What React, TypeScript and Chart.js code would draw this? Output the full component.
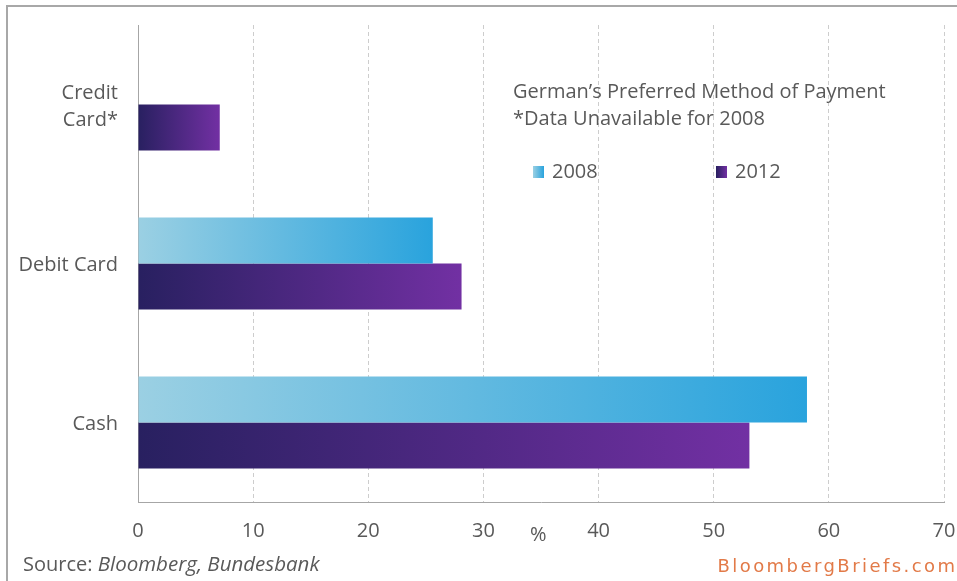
import React, { useEffect, useRef } from "react";
import { Chart, registerables } from "chart.js";

Chart.register(...registerables);

// Share of payments by method, in percent
const categories: (string | string[])[] = [["Credit", "Card*"], "Debit Card", "Cash"];
const values2008: (number | null)[] = [null, 25.6, 58.1];
const values2012: (number | null)[] = [7.1, 28.1, 53.1];
const seriesNames = ["2008", "2012"];
const xMin = 0;
const xMax = 70;
const xStep = 10;

const titleLines = ["German\u2019s Preferred Method of Payment", "*Data Unavailable for 2008"];
const unitLabel = "%";
const sourcePrefix = "Source: ";
const sourceNames = "Bloomberg, Bundesbank";
const brand = "BloombergBriefs.com";

const TEXT = "#595959";
const FONT = '"Open Sans", "Noto Sans", sans-serif';
const palette2008 = ["#9bd0e3", "#29a3dd"];
const palette2012 = ["#282060", "#7230a3"];

// Horizontal gradient that runs from the zero line to the end of each bar
function barGradient(stops: string[]) {
  return (ctx: any) => {
    const chart = ctx.chart;
    if (!chart.chartArea || ctx.type !== "data" || ctx.raw == null) return stops[1];
    const xs = chart.scales.x;
    const x0 = xs.getPixelForValue(0);
    const x1 = xs.getPixelForValue(ctx.raw);
    const g = chart.ctx.createLinearGradient(x0, 0, x1, 0);
    g.addColorStop(0, stops[0]);
    g.addColorStop(1, stops[1]);
    return g;
  };
}

const decorations = {
  id: "decorations",
  afterDraw(chart: any) {
    const c: CanvasRenderingContext2D = chart.ctx;
    c.save();

    // frame on the top and left edges
    c.strokeStyle = "#a8a8a8";
    c.lineWidth = 2;
    c.beginPath();
    c.moveTo(7, chart.height);
    c.lineTo(7, 6);
    c.lineTo(chart.width, 6);
    c.stroke();

    // title block
    c.fillStyle = TEXT;
    c.textBaseline = "middle";
    c.textAlign = "left";
    c.font = `20px ${FONT}`;
    c.fillText(titleLines[0], 513, 92);
    c.fillText(titleLines[1], 513, 119);

    // legend
    const legendItems = [
      { label: seriesNames[0], x: 533, stops: palette2008 },
      { label: seriesNames[1], x: 716, stops: palette2012 },
    ];
    legendItems.forEach((it) => {
      const g = c.createLinearGradient(it.x, 0, it.x + 11, 0);
      g.addColorStop(0, it.stops[0]);
      g.addColorStop(1, it.stops[1]);
      c.fillStyle = g;
      c.fillRect(it.x, 166, 11, 12);
      c.fillStyle = TEXT;
      c.fillText(it.label, it.x + 19, 172);
    });

    // unit next to the x axis
    c.fillText(unitLabel, 530, 535);

    // source line
    c.fillText(sourcePrefix, 23, 565);
    const w = c.measureText(sourcePrefix).width;
    c.font = `italic 20.5px ${FONT}`;
    c.fillText(sourceNames, 23 + w, 565);

    // brand mark
    c.fillStyle = "#e27a48";
    c.font = `18px "DejaVu Sans", sans-serif`;
    const plain = c.measureText(brand).width;
    const spacing = Math.max(0, (240 - plain) / brand.length);
    (c as any).letterSpacing = `${spacing.toFixed(2)}px`;
    c.textAlign = "right";
    c.fillText(brand, 955 + spacing, 567);

    c.restore();
  },
};

export default function App() {
  const ref = useRef<HTMLCanvasElement | null>(null);

  useEffect(() => {
    if (!ref.current) return;
    const chart = new Chart(ref.current, {
      type: "bar",
      data: {
        labels: categories as any,
        datasets: [
          {
            label: seriesNames[0],
            data: values2008 as any,
            backgroundColor: barGradient(palette2008) as any,
            borderWidth: 0,
          },
          {
            label: seriesNames[1],
            data: values2012 as any,
            backgroundColor: barGradient(palette2012) as any,
            borderWidth: 0,
          },
        ],
      },
      plugins: [decorations],
      options: {
        indexAxis: "y",
        animation: false,
        responsive: false,
        devicePixelRatio: 1,
        layout: { padding: { top: 25, right: 13, left: 0, bottom: 0 } },
        datasets: { bar: { categoryPercentage: 0.58, barPercentage: 1 } },
        plugins: {
          legend: { display: false },
          tooltip: { enabled: false },
          title: { display: false },
        },
        scales: {
          x: {
            type: "linear",
            min: xMin,
            max: xMax,
            ticks: {
              stepSize: xStep,
              color: TEXT,
              font: { family: FONT, size: 20 },
              padding: 17,
            },
            grid: {
              color: "#cdcdcd",
              lineWidth: 1,
              drawTicks: false,
            },
            border: { display: true, color: "#a6a6a6", width: 1, dash: [4, 3] },
            afterFit: (s: any) => {
              s.height = 79;
              s.paddingLeft = 0;
              s.paddingRight = 0;
            },
          },
          y: {
            type: "category",
            ticks: {
              color: TEXT,
              font: { family: FONT, size: 20, lineHeight: 1.35 },
              padding: 20,
              labelOffset: 2,
            },
            grid: { display: false, drawTicks: false },
            border: { display: true, color: "#a6a6a6", width: 1 },
            afterFit: (s: any) => {
              s.width = 138;
              s.paddingTop = 0;
              s.paddingBottom = 0;
            },
          },
        },
      },
    } as any);
    return () => chart.destroy();
  }, []);

  return (
    <div style={{ position: "absolute", left: 0, top: 0, width: 957, height: 581, background: "#fff" }}>
      <canvas ref={ref} width={957} height={581} />
    </div>
  );
}
